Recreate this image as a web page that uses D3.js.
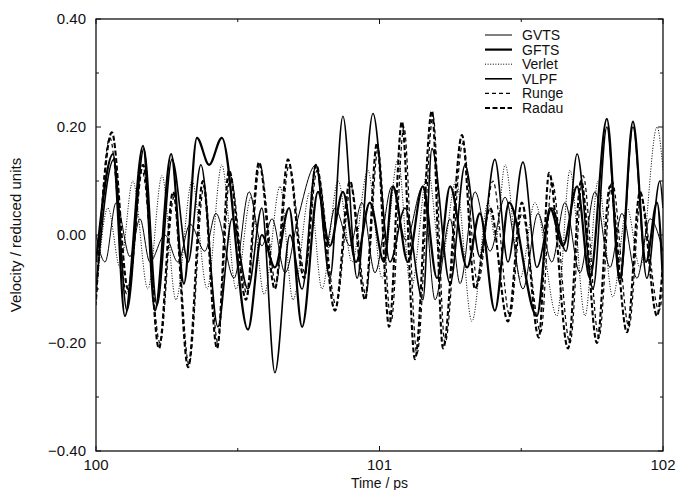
<!DOCTYPE html>
<html>
<head>
<meta charset="utf-8">
<script src="https://cdn.jsdelivr.net/npm/d3@7"></script>
<style>
  body { margin: 0; background: #fff; }
  text { font-family: "Liberation Sans", Arial, sans-serif; fill: #111; }
</style>
</head>
<body>
<div id="chart-area"></div>
<script>

// series: [time (ps), velocity (reduced units)] read at turning points
var gvts = [[100.000,0.00],[100.032,-0.05],[100.071,0.06],[100.120,-0.04],[100.155,0.03],[100.190,-0.05],[100.243,0.00],[100.289,-0.05],[100.332,0.02],[100.384,-0.03],[100.423,0.04],[100.487,-0.08],[100.540,0.08],[100.585,-0.02],[100.621,0.03],[100.667,-0.07],[100.712,0.03],[100.776,0.13],[100.811,-0.02],[100.843,0.05],[100.896,-0.02],[100.938,0.06],[100.984,-0.07],[101.044,0.09],[101.093,-0.01],[101.153,0.09],[101.196,-0.12],[101.249,0.03],[101.284,-0.09],[101.337,0.08],[101.390,-0.03],[101.443,0.07],[101.506,-0.10],[101.559,0.04],[101.608,-0.05],[101.654,0.06],[101.707,-0.07],[101.760,0.08],[101.813,-0.06],[101.855,0.04],[101.908,-0.08],[101.954,0.03],[102.000,-0.03]];

var gfts = [[100.000,-0.05],[100.060,0.15],[100.102,-0.15],[100.166,0.165],[100.208,-0.14],[100.265,0.15],[100.310,-0.09],[100.356,0.18],[100.399,0.13],[100.444,0.18],[100.536,-0.175],[100.585,0.00],[100.631,-0.06],[100.681,0.05],[100.727,-0.17],[100.783,0.08],[100.825,-0.02],[100.871,0.08],[100.917,-0.05],[100.966,0.06],[101.016,-0.05],[101.048,0.09],[101.100,-0.05],[101.153,0.09],[101.203,-0.08],[101.249,0.09],[101.309,-0.06],[101.354,0.04],[101.407,-0.14],[101.457,0.06],[101.555,-0.15],[101.601,0.05],[101.647,-0.02],[101.697,0.09],[101.742,-0.08],[101.802,0.215],[101.848,-0.08],[101.894,0.21],[101.940,-0.05],[101.979,0.06],[102.000,-0.09]];

var verlet = [[100.000,-0.12],[100.042,0.05],[100.085,-0.06],[100.130,0.10],[100.183,-0.10],[100.233,0.11],[100.282,-0.12],[100.339,0.10],[100.392,-0.10],[100.444,0.13],[100.494,-0.10],[100.547,0.07],[100.593,-0.11],[100.649,0.09],[100.695,-0.12],[100.755,0.08],[100.797,-0.10],[100.854,0.10],[100.903,-0.05],[100.959,0.12],[101.009,-0.08],[101.065,0.14],[101.111,-0.10],[101.171,0.12],[101.217,-0.05],[101.270,0.10],[101.326,-0.16],[101.383,0.06],[101.410,-0.01],[101.443,0.13],[101.496,-0.08],[101.548,0.06],[101.626,-0.15],[101.672,0.12],[101.725,-0.15],[101.771,0.10],[101.823,-0.115],[101.873,0.05],[101.919,-0.06],[101.979,0.20],[102.000,0.12]];

var vlpf = [[100.000,-0.10],[100.063,0.14],[100.109,-0.14],[100.169,0.16],[100.215,-0.13],[100.268,0.14],[100.325,-0.05],[100.370,0.13],[100.430,-0.17],[100.480,0.03],[100.536,-0.10],[100.585,0.05],[100.631,-0.255],[100.684,0.00],[100.727,-0.10],[100.776,0.13],[100.825,-0.08],[100.871,0.22],[100.921,-0.08],[100.977,0.225],[101.037,-0.05],[101.090,0.05],[101.153,-0.12],[101.185,0.16],[101.249,-0.09],[101.302,0.13],[101.354,-0.04],[101.407,0.14],[101.453,-0.05],[101.506,0.135],[101.555,-0.06],[101.608,0.05],[101.658,-0.03],[101.697,0.15],[101.753,-0.10],[101.802,0.20],[101.848,-0.09],[101.894,0.20],[101.943,-0.08],[101.989,0.10],[102.000,0.05]];

var runge = [[100.000,-0.13],[100.049,0.18],[100.109,-0.11],[100.162,0.12],[100.226,-0.20],[100.275,0.07],[100.328,-0.24],[100.381,0.09],[100.430,-0.20],[100.473,0.11],[100.533,-0.11],[100.578,0.13],[100.635,-0.09],[100.681,0.13],[100.737,-0.07],[100.780,0.12],[100.847,-0.13],[100.900,0.09],[100.952,-0.11],[100.995,0.16],[101.041,-0.16],[101.086,0.20],[101.132,-0.22],[101.189,0.22],[101.231,-0.20],[101.294,0.17],[101.347,-0.09],[101.400,0.10],[101.460,-0.15],[101.502,0.04],[101.569,-0.18],[101.608,0.10],[101.672,-0.20],[101.718,0.11],[101.774,-0.19],[101.820,0.10],[101.880,-0.17],[101.922,0.07],[101.986,-0.14],[102.000,-0.10]];

var radau = [[100.000,-0.12],[100.056,0.19],[100.113,-0.10],[100.166,0.13],[100.222,-0.21],[100.272,0.08],[100.325,-0.245],[100.377,0.10],[100.427,-0.21],[100.469,0.12],[100.529,-0.12],[100.575,0.135],[100.631,-0.10],[100.677,0.14],[100.734,-0.08],[100.776,0.13],[100.843,-0.14],[100.896,0.10],[100.949,-0.12],[100.991,0.17],[101.034,-0.17],[101.079,0.21],[101.125,-0.23],[101.185,0.23],[101.224,-0.21],[101.291,0.185],[101.337,-0.10],[101.390,0.05],[101.453,-0.16],[101.502,0.06],[101.562,-0.19],[101.598,0.115],[101.665,-0.21],[101.711,0.10],[101.767,-0.20],[101.813,0.09],[101.873,-0.18],[101.919,0.08],[101.979,-0.15],[102.000,-0.05]];

var seriesNames = ["GVTS", "GFTS", "Verlet", "VLPF", "Runge", "Radau"];
var yTickValues = [0.40, 0.20, 0.00, -0.20, -0.40];
var xTickValues = [100, 101, 102];

var styles = {
    "GVTS":   { w: 1.0, dash: null },
    "GFTS":   { w: 2.2, dash: null },
    "Verlet": { w: 1.0, dash: "1,1.6" },
    "VLPF":   { w: 1.6, dash: null },
    "Runge":  { w: 1.2, dash: "4,3" },
    "Radau":  { w: 2.1, dash: "5,2.5" }
};

var allSeries = [gvts, gfts, verlet, vlpf, runge, radau];

var W = 678, H = 490;
var margin = { left: 96, right: 15, top: 19, bottom: 39 };
var width = W - margin.left - margin.right,
    height = H - margin.top - margin.bottom;

var svg = d3.select("#chart-area").append("svg")
    .attr("width", W)
    .attr("height", H);

var g = svg.append("g")
    .attr("transform", "translate(" + margin.left + "," + margin.top + ")");

var x = d3.scaleLinear().domain([100, 102]).range([0, width]);
var y = d3.scaleLinear().domain([-0.4, 0.4]).range([height, 0]);

g.append("clipPath").attr("id", "clip")
  .append("rect").attr("width", width).attr("height", height);

// curves
var line = d3.line()
    .x(function(d){ return x(d[0]); })
    .y(function(d){ return y(d[1]); })
    .curve(d3.curveMonotoneX);

var lines = g.append("g").attr("clip-path", "url(#clip)");
allSeries.forEach(function(s, i){
    var st = styles[seriesNames[i]];
    lines.append("path")
        .attr("d", line(s))
        .attr("fill", "none")
        .attr("stroke", "#000")
        .attr("stroke-width", st.w)
        .attr("stroke-dasharray", st.dash)
        .attr("stroke-linejoin", "round");
});

// frame
g.append("rect")
    .attr("width", width).attr("height", height)
    .attr("fill", "none").attr("stroke", "#111").attr("stroke-width", 1.3);

// inward ticks, all four sides
var yMinor = d3.range(-0.4, 0.401, 0.1);
yMinor.forEach(function(v){
    var major = Math.abs(Math.round(v * 10)) % 2 === 0;
    var len = major ? 5 : 3;
    g.append("line").attr("x1", 0).attr("x2", len)
        .attr("y1", y(v)).attr("y2", y(v)).attr("stroke", "#111");
    g.append("line").attr("x1", width).attr("x2", width - len)
        .attr("y1", y(v)).attr("y2", y(v)).attr("stroke", "#111");
});
[100, 100.5, 101, 101.5, 102].forEach(function(v){
    var len = (v % 1 === 0) ? 5 : 3;
    g.append("line").attr("y1", height).attr("y2", height - len)
        .attr("x1", x(v)).attr("x2", x(v)).attr("stroke", "#111");
    g.append("line").attr("y1", 0).attr("y2", len)
        .attr("x1", x(v)).attr("x2", x(v)).attr("stroke", "#111");
});

// tick labels
g.selectAll(".ylab").data(yTickValues).enter().append("text")
    .attr("x", -10)
    .attr("y", function(d){ return y(d); })
    .attr("dy", "0.35em")
    .attr("text-anchor", "end")
    .attr("font-size", "15px")
    .text(function(d){ return d3.format(".2f")(d); });

g.selectAll(".xlab").data(xTickValues).enter().append("text")
    .attr("x", function(d){ return x(d); })
    .attr("y", height + 19)
    .attr("text-anchor", "middle")
    .attr("font-size", "15px")
    .text(function(d){ return d; });

// axis titles
g.append("text")
    .attr("x", width / 2)
    .attr("y", height + 37)
    .attr("text-anchor", "middle")
    .attr("font-size", "14px")
    .text("Time / ps");

g.append("text")
    .attr("transform", "translate(" + (-75) + "," + (height / 2) + ") rotate(-90)")
    .attr("text-anchor", "middle")
    .attr("font-size", "15px")
    .text("Velocity / reduced units");

// legend
var legend = g.append("g").attr("transform", "translate(389, 16)");
seriesNames.forEach(function(name, i){
    var st = styles[name];
    var row = legend.append("g").attr("transform", "translate(0," + (i * 14.6) + ")");
    row.append("line")
        .attr("x1", 0).attr("x2", 27)
        .attr("stroke", "#000")
        .attr("stroke-width", st.w)
        .attr("stroke-dasharray", st.dash);
    row.append("text")
        .attr("x", 37).attr("dy", "0.35em")
        .attr("font-size", "14px")
        .text(name);
});

</script>
</body>
</html>
